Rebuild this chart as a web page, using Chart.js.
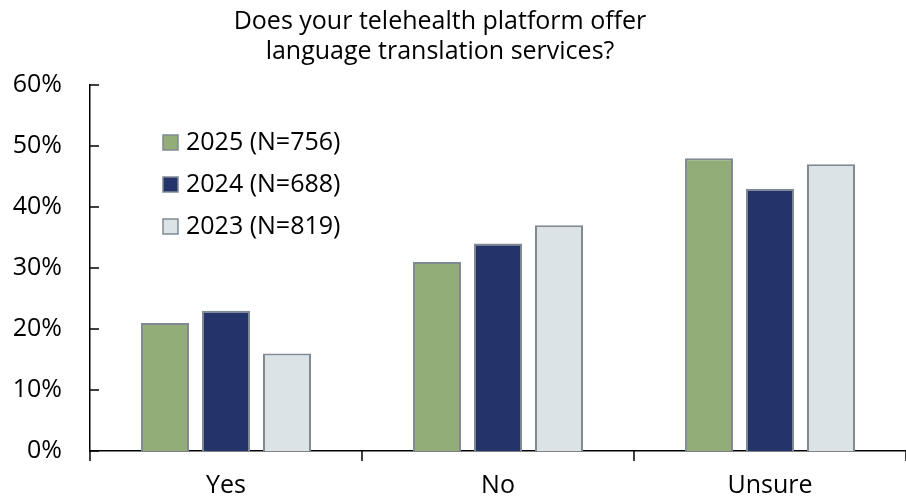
<!DOCTYPE html>
<html>
<head>
<meta charset="utf-8">
<script src="https://cdn.jsdelivr.net/npm/chart.js@4.4.1/dist/chart.umd.min.js"></script>
<style>
  html, body { margin: 0; padding: 0; background: #fff; }
  #wrap { width: 906px; height: 504px; position: relative; }
</style>
</head>
<body>
<div id="wrap"><canvas id="chart"></canvas></div>
<script>
const categories = ['Yes', 'No', 'Unsure'];
const seriesLabels = ['2025 (N=756)', '2024 (N=688)', '2023 (N=819)'];
const values2025 = [21, 31, 48];
const values2024 = [23, 34, 43];
const values2023 = [16, 37, 47];
const titleLines = ['Does your telehealth platform offer', 'language translation services?'];

const FONT = '"Open Sans", sans-serif';
const SIZE = 25;
const colors = ['#92ad78', '#24346b', '#dce3e6'];
const edge = '#7f8a93';

// title, inward y ticks, boundary x ticks and the legend box
const decor = {
  id: 'decor',
  afterDraw(chart) {
    const c = chart.ctx;
    const a = chart.chartArea;
    c.save();
    c.fillStyle = '#000';
    c.font = '25px ' + FONT;
    c.textAlign = 'center';
    c.textBaseline = 'middle';
    titleLines.forEach((t, i) => c.fillText(t, 440, 22 + i * 30));

    c.strokeStyle = '#000';
    c.lineWidth = 1.5;
    const y = chart.scales.y;
    y.ticks.forEach(t => {
      const py = y.getPixelForValue(t.value);
      c.beginPath(); c.moveTo(a.left, py); c.lineTo(a.left + 9, py); c.stroke();
    });
    const catW = (a.right - a.left) / categories.length;
    for (let i = 0; i <= categories.length; i++) {
      const px = a.left + i * catW;
      c.beginPath(); c.moveTo(px, a.bottom); c.lineTo(px, a.bottom + 10); c.stroke();
    }

    c.font = SIZE + 'px ' + FONT;
    chart.data.datasets.forEach((ds, i) => {
      const ly = 143 + i * 42;
      c.fillStyle = ds.backgroundColor;
      c.fillRect(163, ly - 8, 15, 15);
      c.strokeStyle = edge;
      c.lineWidth = 1.5;
      c.strokeRect(163, ly - 8, 15, 15);
      c.fillStyle = '#000';
      c.textAlign = 'left';
      c.fillText(ds.label, 186, ly);
    });
    c.restore();
  }
};

new Chart(document.getElementById('chart'), {
  type: 'bar',
  data: {
    labels: categories,
    datasets: [values2025, values2024, values2023].map((v, i) => ({
      label: seriesLabels[i],
      data: v,
      backgroundColor: colors[i],
      borderColor: edge,
      borderWidth: 2,
      categoryPercentage: 0.673,
      barPercentage: 0.787,
    })),
  },
  options: {
    responsive: true, maintainAspectRatio: false, animation: false,
    layout: { padding: { top: 85, right: 0, bottom: 0, left: 0 } },
    plugins: { legend: { display: false }, title: { display: false }, tooltip: { enabled: false } },
    scales: {
      x: {
        grid: { display: false, drawTicks: false },
        border: { color: '#000', width: 1.5 },
        ticks: { color: '#000', font: { family: FONT, size: SIZE }, padding: 20 },
        afterFit: s => { s.height = 53; },
      },
      y: {
        min: 0, max: 60,
        grid: { display: false, drawTicks: false },
        border: { color: '#000', width: 1.5 },
        ticks: { color: '#000', stepSize: 10, font: { family: FONT, size: SIZE }, padding: 28, callback: v => v + '%' },
        afterFit: s => { s.width = 90; },
      },
    },
  },
  plugins: [decor],
});
</script>
</body>
</html>
